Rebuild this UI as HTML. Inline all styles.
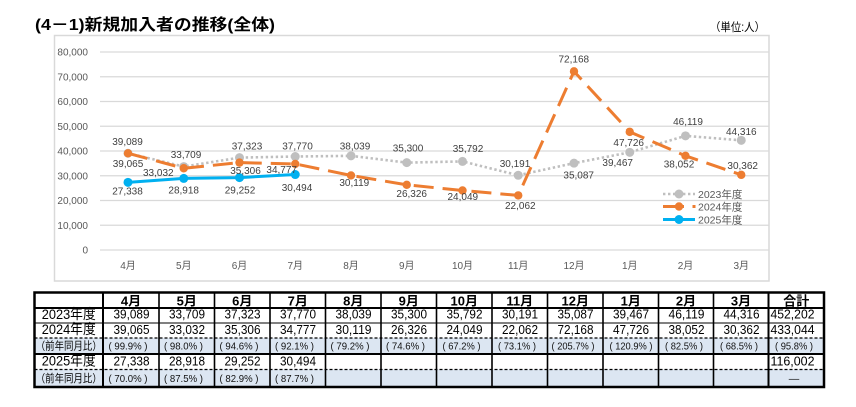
<!DOCTYPE html>
<html><head><meta charset="utf-8">
<style>
html,body{margin:0;padding:0;background:#fff;}
svg{display:block;}
text{font-family:"Liberation Sans","Noto Sans CJK JP",sans-serif;}
</style></head>
<body>
<svg width="856" height="407" viewBox="0 0 856 407" xmlns="http://www.w3.org/2000/svg">
<rect x="0" y="0" width="856" height="407" fill="#fff"/>
<!-- title -->
<text x="35" y="30" font-size="16" font-weight="bold" fill="#000" textLength="240" lengthAdjust="spacingAndGlyphs">(4－1)新規加入者の推移(全体)</text>
<text x="710" y="31" font-size="11.5" fill="#000" textLength="55" lengthAdjust="spacingAndGlyphs">（単位:人）</text>

<!-- chart frame -->
<rect x="54.5" y="35.5" width="714.5" height="245.5" fill="none" stroke="#d9d9d9" stroke-width="1.5"/>

<!-- gridlines -->
<g stroke="#d9d9d9" stroke-width="1.2">
<line x1="100" y1="52" x2="769" y2="52"/>
<line x1="100" y1="76.75" x2="769" y2="76.75"/>
<line x1="100" y1="101.5" x2="769" y2="101.5"/>
<line x1="100" y1="126.25" x2="769" y2="126.25"/>
<line x1="100" y1="151" x2="769" y2="151"/>
<line x1="100" y1="175.75" x2="769" y2="175.75"/>
<line x1="100" y1="200.5" x2="769" y2="200.5"/>
<line x1="100" y1="225.25" x2="769" y2="225.25"/>
<line x1="100" y1="250" x2="769" y2="250"/>
</g>

<!-- y axis labels -->
<g font-size="10" fill="#595959" text-anchor="end">
<text x="88" y="55.5">80,000</text>
<text x="88" y="80.25">70,000</text>
<text x="88" y="105">60,000</text>
<text x="88" y="129.75">50,000</text>
<text x="88" y="154.5">40,000</text>
<text x="88" y="179.25">30,000</text>
<text x="88" y="204">20,000</text>
<text x="88" y="228.75">10,000</text>
<text x="88" y="253.5">0</text>
</g>

<!-- x axis labels -->
<g font-size="10" fill="#595959" text-anchor="middle">
<text x="128" y="269">4月</text>
<text x="183.75" y="269">5月</text>
<text x="239.5" y="269">6月</text>
<text x="295.25" y="269">7月</text>
<text x="351" y="269">8月</text>
<text x="406.75" y="269">9月</text>
<text x="462.5" y="269">10月</text>
<text x="518.25" y="269">11月</text>
<text x="574" y="269">12月</text>
<text x="629.75" y="269">1月</text>
<text x="685.5" y="269">2月</text>
<text x="741.25" y="269">3月</text>
</g>

<!-- 2023 series -->
<polyline fill="none" stroke="#bfbfbf" stroke-width="2.6" stroke-dasharray="2.4 2.6"
 points="128,153.25 183.75,166.57 239.5,157.63 295.25,156.52 351,155.85 406.75,162.63 462.5,161.41 518.25,175.28 574,163.16 629.75,152.32 685.5,135.86 741.25,140.32"/>
<g fill="#bfbfbf">
<circle cx="128" cy="153.25" r="4.5"/><circle cx="183.75" cy="166.57" r="4.5"/><circle cx="239.5" cy="157.63" r="4.5"/><circle cx="295.25" cy="156.52" r="4.5"/><circle cx="351" cy="155.85" r="4.5"/><circle cx="406.75" cy="162.63" r="4.5"/><circle cx="462.5" cy="161.41" r="4.5"/><circle cx="518.25" cy="175.28" r="4.5"/><circle cx="574" cy="163.16" r="4.5"/><circle cx="629.75" cy="152.32" r="4.5"/><circle cx="685.5" cy="135.86" r="4.5"/><circle cx="741.25" cy="140.32" r="4.5"/>
</g>

<!-- 2024 series -->
<polyline fill="none" stroke="#ed7d31" stroke-width="3" stroke-dasharray="20 9"
 points="128,153.31 183.75,168.25 239.5,162.62 295.25,163.93 351,175.46 406.75,184.84 462.5,190.48 518.25,195.4 574,71.38 629.75,131.88 685.5,155.82 741.25,174.85"/>
<g fill="#ed7d31">
<circle cx="128" cy="153.31" r="4.2"/><circle cx="183.75" cy="168.25" r="4.2"/><circle cx="239.5" cy="162.62" r="4.2"/><circle cx="295.25" cy="163.93" r="4.2"/><circle cx="351" cy="175.46" r="4.2"/><circle cx="406.75" cy="184.84" r="4.2"/><circle cx="462.5" cy="190.48" r="4.2"/><circle cx="518.25" cy="195.4" r="4.2"/><circle cx="574" cy="71.38" r="4.2"/><circle cx="629.75" cy="131.88" r="4.2"/><circle cx="685.5" cy="155.82" r="4.2"/><circle cx="741.25" cy="174.85" r="4.2"/>
</g>

<!-- 2025 series -->
<polyline fill="none" stroke="#00b0f0" stroke-width="3" points="128,182.34 183.75,178.43 239.5,177.6 295.25,174.53"/>
<g fill="#00b0f0">
<circle cx="128" cy="182.34" r="4.5"/><circle cx="183.75" cy="178.43" r="4.5"/><circle cx="239.5" cy="177.6" r="4.5"/><circle cx="295.25" cy="174.53" r="4.5"/>
</g>

<!-- data labels -->
<g font-size="10" fill="#404040" text-anchor="middle">
<text x="127.5" y="145.2">39,089</text>
<text x="186" y="157.8">33,709</text>
<text x="247" y="149.5">37,323</text>
<text x="297.5" y="149.5">37,770</text>
<text x="355" y="149.5">38,039</text>
<text x="408" y="151.5">35,300</text>
<text x="468" y="151.8">35,792</text>
<text x="515" y="166.8">30,191</text>
<text x="578.7" y="178.5">35,087</text>
<text x="617.7" y="165.8">39,467</text>
<text x="688" y="125.2">46,119</text>
<text x="741.3" y="135.2">44,316</text>
<text x="128" y="166.8">39,065</text>
<text x="158.3" y="175.8">33,032</text>
<text x="245.5" y="174.2">35,306</text>
<text x="281.7" y="172.8">34,777</text>
<text x="354.3" y="185.8">30,119</text>
<text x="411.7" y="196.8">26,326</text>
<text x="462.8" y="200.2">24,049</text>
<text x="520.3" y="208.8">22,062</text>
<text x="573.8" y="62.5">72,168</text>
<text x="628.7" y="146.2">47,726</text>
<text x="679" y="167.5">38,052</text>
<text x="742.7" y="169.2">30,362</text>
<text x="127.5" y="194.5">27,338</text>
<text x="183.7" y="193.5">28,918</text>
<text x="240" y="193.5">29,252</text>
<text x="297" y="190.8">30,494</text>
</g>

<!-- legend -->
<line x1="663" y1="194" x2="695" y2="194" stroke="#bfbfbf" stroke-width="2.6" stroke-dasharray="2.4 2.6"/>
<circle cx="679" cy="194" r="4.5" fill="#bfbfbf"/>
<line x1="663" y1="206.5" x2="684" y2="206.5" stroke="#ed7d31" stroke-width="3"/>
<circle cx="679" cy="206.5" r="4.2" fill="#ed7d31"/>
<rect x="692.5" y="205" width="3" height="3" fill="#ed7d31"/>
<line x1="663" y1="219.5" x2="695" y2="219.5" stroke="#00b0f0" stroke-width="3"/>
<circle cx="679" cy="219.5" r="4.5" fill="#00b0f0"/>
<g font-size="10.5" fill="#595959">
<text x="698" y="198">2023年度</text>
<text x="698" y="210.5">2024年度</text>
<text x="698" y="223.5">2025年度</text>
</g>

<!-- table -->
<rect x="34.5" y="338" width="789.5" height="16" fill="#dce6f2"/>
<rect x="34.5" y="369.5" width="789.5" height="17.5" fill="#dce6f2"/>
<g stroke="#000" fill="none">
<line x1="34.5" y1="323" x2="824" y2="323" stroke-width="1"/>
<line x1="34.5" y1="338" x2="824" y2="338" stroke-width="1.2" stroke-dasharray="3 2"/>
<line x1="34.5" y1="369.5" x2="824" y2="369.5" stroke-width="1.2" stroke-dasharray="3 2"/>
<line x1="34.5" y1="308" x2="824" y2="308" stroke-width="2"/>
<line x1="34.5" y1="354" x2="824" y2="354" stroke-width="2"/>
<g stroke-width="1.6">
<line x1="159" y1="292.5" x2="159" y2="387"/>
<line x1="214.5" y1="292.5" x2="214.5" y2="387"/>
<line x1="270" y1="292.5" x2="270" y2="387"/>
<line x1="325.5" y1="292.5" x2="325.5" y2="387"/>
<line x1="381" y1="292.5" x2="381" y2="387"/>
<line x1="436.5" y1="292.5" x2="436.5" y2="387"/>
<line x1="492" y1="292.5" x2="492" y2="387"/>
<line x1="547.5" y1="292.5" x2="547.5" y2="387"/>
<line x1="603" y1="292.5" x2="603" y2="387"/>
<line x1="658.5" y1="292.5" x2="658.5" y2="387"/>
<line x1="713.5" y1="292.5" x2="713.5" y2="387"/>
</g>
<line x1="103" y1="292.5" x2="103" y2="387" stroke-width="2"/>
<line x1="768.5" y1="292.5" x2="768.5" y2="387" stroke-width="2"/>
<rect x="34.5" y="292.5" width="789.5" height="94.5" stroke-width="2.5"/>
</g>

<g fill="#000" text-anchor="middle">
<g font-size="13" font-weight="bold">
<text x="131" y="305.5">4月</text>
<text x="186.75" y="305.5">5月</text>
<text x="242.25" y="305.5">6月</text>
<text x="297.75" y="305.5">7月</text>
<text x="353.25" y="305.5">8月</text>
<text x="408.75" y="305.5">9月</text>
<text x="464.25" y="305.5">10月</text>
<text x="519.75" y="305.5">11月</text>
<text x="575.25" y="305.5">12月</text>
<text x="630.75" y="305.5">1月</text>
<text x="686" y="305.5">2月</text>
<text x="741" y="305.5">3月</text>
<text x="796.25" y="305.5">合計</text>
</g>
<g font-size="14">
<text x="68.75" y="319" textLength="54" lengthAdjust="spacingAndGlyphs">2023年度</text>
<text x="68.75" y="334" textLength="54" lengthAdjust="spacingAndGlyphs">2024年度</text>
<text x="68.75" y="365.5" textLength="54" lengthAdjust="spacingAndGlyphs">2025年度</text>
</g>
<g font-size="11">
<text x="68.75" y="349.5" textLength="66" lengthAdjust="spacingAndGlyphs">（前年同月比）</text>
<text x="68.75" y="382" textLength="66" lengthAdjust="spacingAndGlyphs">（前年同月比）</text>
</g>
<g font-size="13">
<text x="131.5" y="318.5" textLength="36" lengthAdjust="spacingAndGlyphs">39,089</text>
<text x="187" y="318.5" textLength="36" lengthAdjust="spacingAndGlyphs">33,709</text>
<text x="242.5" y="318.5" textLength="36" lengthAdjust="spacingAndGlyphs">37,323</text>
<text x="298" y="318.5" textLength="36" lengthAdjust="spacingAndGlyphs">37,770</text>
<text x="353.5" y="318.5" textLength="36" lengthAdjust="spacingAndGlyphs">38,039</text>
<text x="409" y="318.5" textLength="36" lengthAdjust="spacingAndGlyphs">35,300</text>
<text x="464.5" y="318.5" textLength="36" lengthAdjust="spacingAndGlyphs">35,792</text>
<text x="520" y="318.5" textLength="36" lengthAdjust="spacingAndGlyphs">30,191</text>
<text x="575.5" y="318.5" textLength="36" lengthAdjust="spacingAndGlyphs">35,087</text>
<text x="631" y="318.5" textLength="36" lengthAdjust="spacingAndGlyphs">39,467</text>
<text x="686.5" y="318.5" textLength="36" lengthAdjust="spacingAndGlyphs">46,119</text>
<text x="741.5" y="318.5" textLength="36" lengthAdjust="spacingAndGlyphs">44,316</text>
<text x="792.5" y="318.5" textLength="44" lengthAdjust="spacingAndGlyphs">452,202</text>
<text x="131.5" y="334" textLength="36" lengthAdjust="spacingAndGlyphs">39,065</text>
<text x="187" y="334" textLength="36" lengthAdjust="spacingAndGlyphs">33,032</text>
<text x="242.5" y="334" textLength="36" lengthAdjust="spacingAndGlyphs">35,306</text>
<text x="298" y="334" textLength="36" lengthAdjust="spacingAndGlyphs">34,777</text>
<text x="353.5" y="334" textLength="36" lengthAdjust="spacingAndGlyphs">30,119</text>
<text x="409" y="334" textLength="36" lengthAdjust="spacingAndGlyphs">26,326</text>
<text x="464.5" y="334" textLength="36" lengthAdjust="spacingAndGlyphs">24,049</text>
<text x="520" y="334" textLength="36" lengthAdjust="spacingAndGlyphs">22,062</text>
<text x="575.5" y="334" textLength="36" lengthAdjust="spacingAndGlyphs">72,168</text>
<text x="631" y="334" textLength="36" lengthAdjust="spacingAndGlyphs">47,726</text>
<text x="686.5" y="334" textLength="36" lengthAdjust="spacingAndGlyphs">38,052</text>
<text x="741.5" y="334" textLength="36" lengthAdjust="spacingAndGlyphs">30,362</text>
<text x="792.5" y="334" textLength="44" lengthAdjust="spacingAndGlyphs">433,044</text>
<text x="131.5" y="365.5" textLength="36" lengthAdjust="spacingAndGlyphs">27,338</text>
<text x="187" y="365.5" textLength="36" lengthAdjust="spacingAndGlyphs">28,918</text>
<text x="242.5" y="365.5" textLength="36" lengthAdjust="spacingAndGlyphs">29,252</text>
<text x="298" y="365.5" textLength="36" lengthAdjust="spacingAndGlyphs">30,494</text>
<text x="792.5" y="365.5" textLength="44" lengthAdjust="spacingAndGlyphs">116,002</text>
</g>
<g font-size="10.5" fill="#111">
<text x="128" y="349.5" textLength="39" lengthAdjust="spacingAndGlyphs">( 99.9% )</text>
<text x="183.5" y="349.5" textLength="39" lengthAdjust="spacingAndGlyphs">( 98.0% )</text>
<text x="239" y="349.5" textLength="39" lengthAdjust="spacingAndGlyphs">( 94.6% )</text>
<text x="294.5" y="349.5" textLength="39" lengthAdjust="spacingAndGlyphs">( 92.1% )</text>
<text x="350" y="349.5" textLength="39" lengthAdjust="spacingAndGlyphs">( 79.2% )</text>
<text x="405.5" y="349.5" textLength="39" lengthAdjust="spacingAndGlyphs">( 74.6% )</text>
<text x="461.5" y="349.5" textLength="38" lengthAdjust="spacingAndGlyphs">( 67.2% )</text>
<text x="517" y="349.5" textLength="38" lengthAdjust="spacingAndGlyphs">( 73.1% )</text>
<text x="573" y="349.5" textLength="43" lengthAdjust="spacingAndGlyphs">( 205.7% )</text>
<text x="631" y="349.5" textLength="43" lengthAdjust="spacingAndGlyphs">( 120.9% )</text>
<text x="684" y="349.5" textLength="38" lengthAdjust="spacingAndGlyphs">( 82.5% )</text>
<text x="739" y="349.5" textLength="38" lengthAdjust="spacingAndGlyphs">( 68.5% )</text>
<text x="794" y="349.5" textLength="38" lengthAdjust="spacingAndGlyphs">( 95.8% )</text>
<text x="128" y="382" textLength="39" lengthAdjust="spacingAndGlyphs">( 70.0% )</text>
<text x="183.5" y="382" textLength="39" lengthAdjust="spacingAndGlyphs">( 87.5% )</text>
<text x="239" y="382" textLength="39" lengthAdjust="spacingAndGlyphs">( 82.9% )</text>
<text x="294.5" y="382" textLength="39" lengthAdjust="spacingAndGlyphs">( 87.7% )</text>
<text x="794" y="382">—</text>
</g>
</g>
</svg>
</body></html>
